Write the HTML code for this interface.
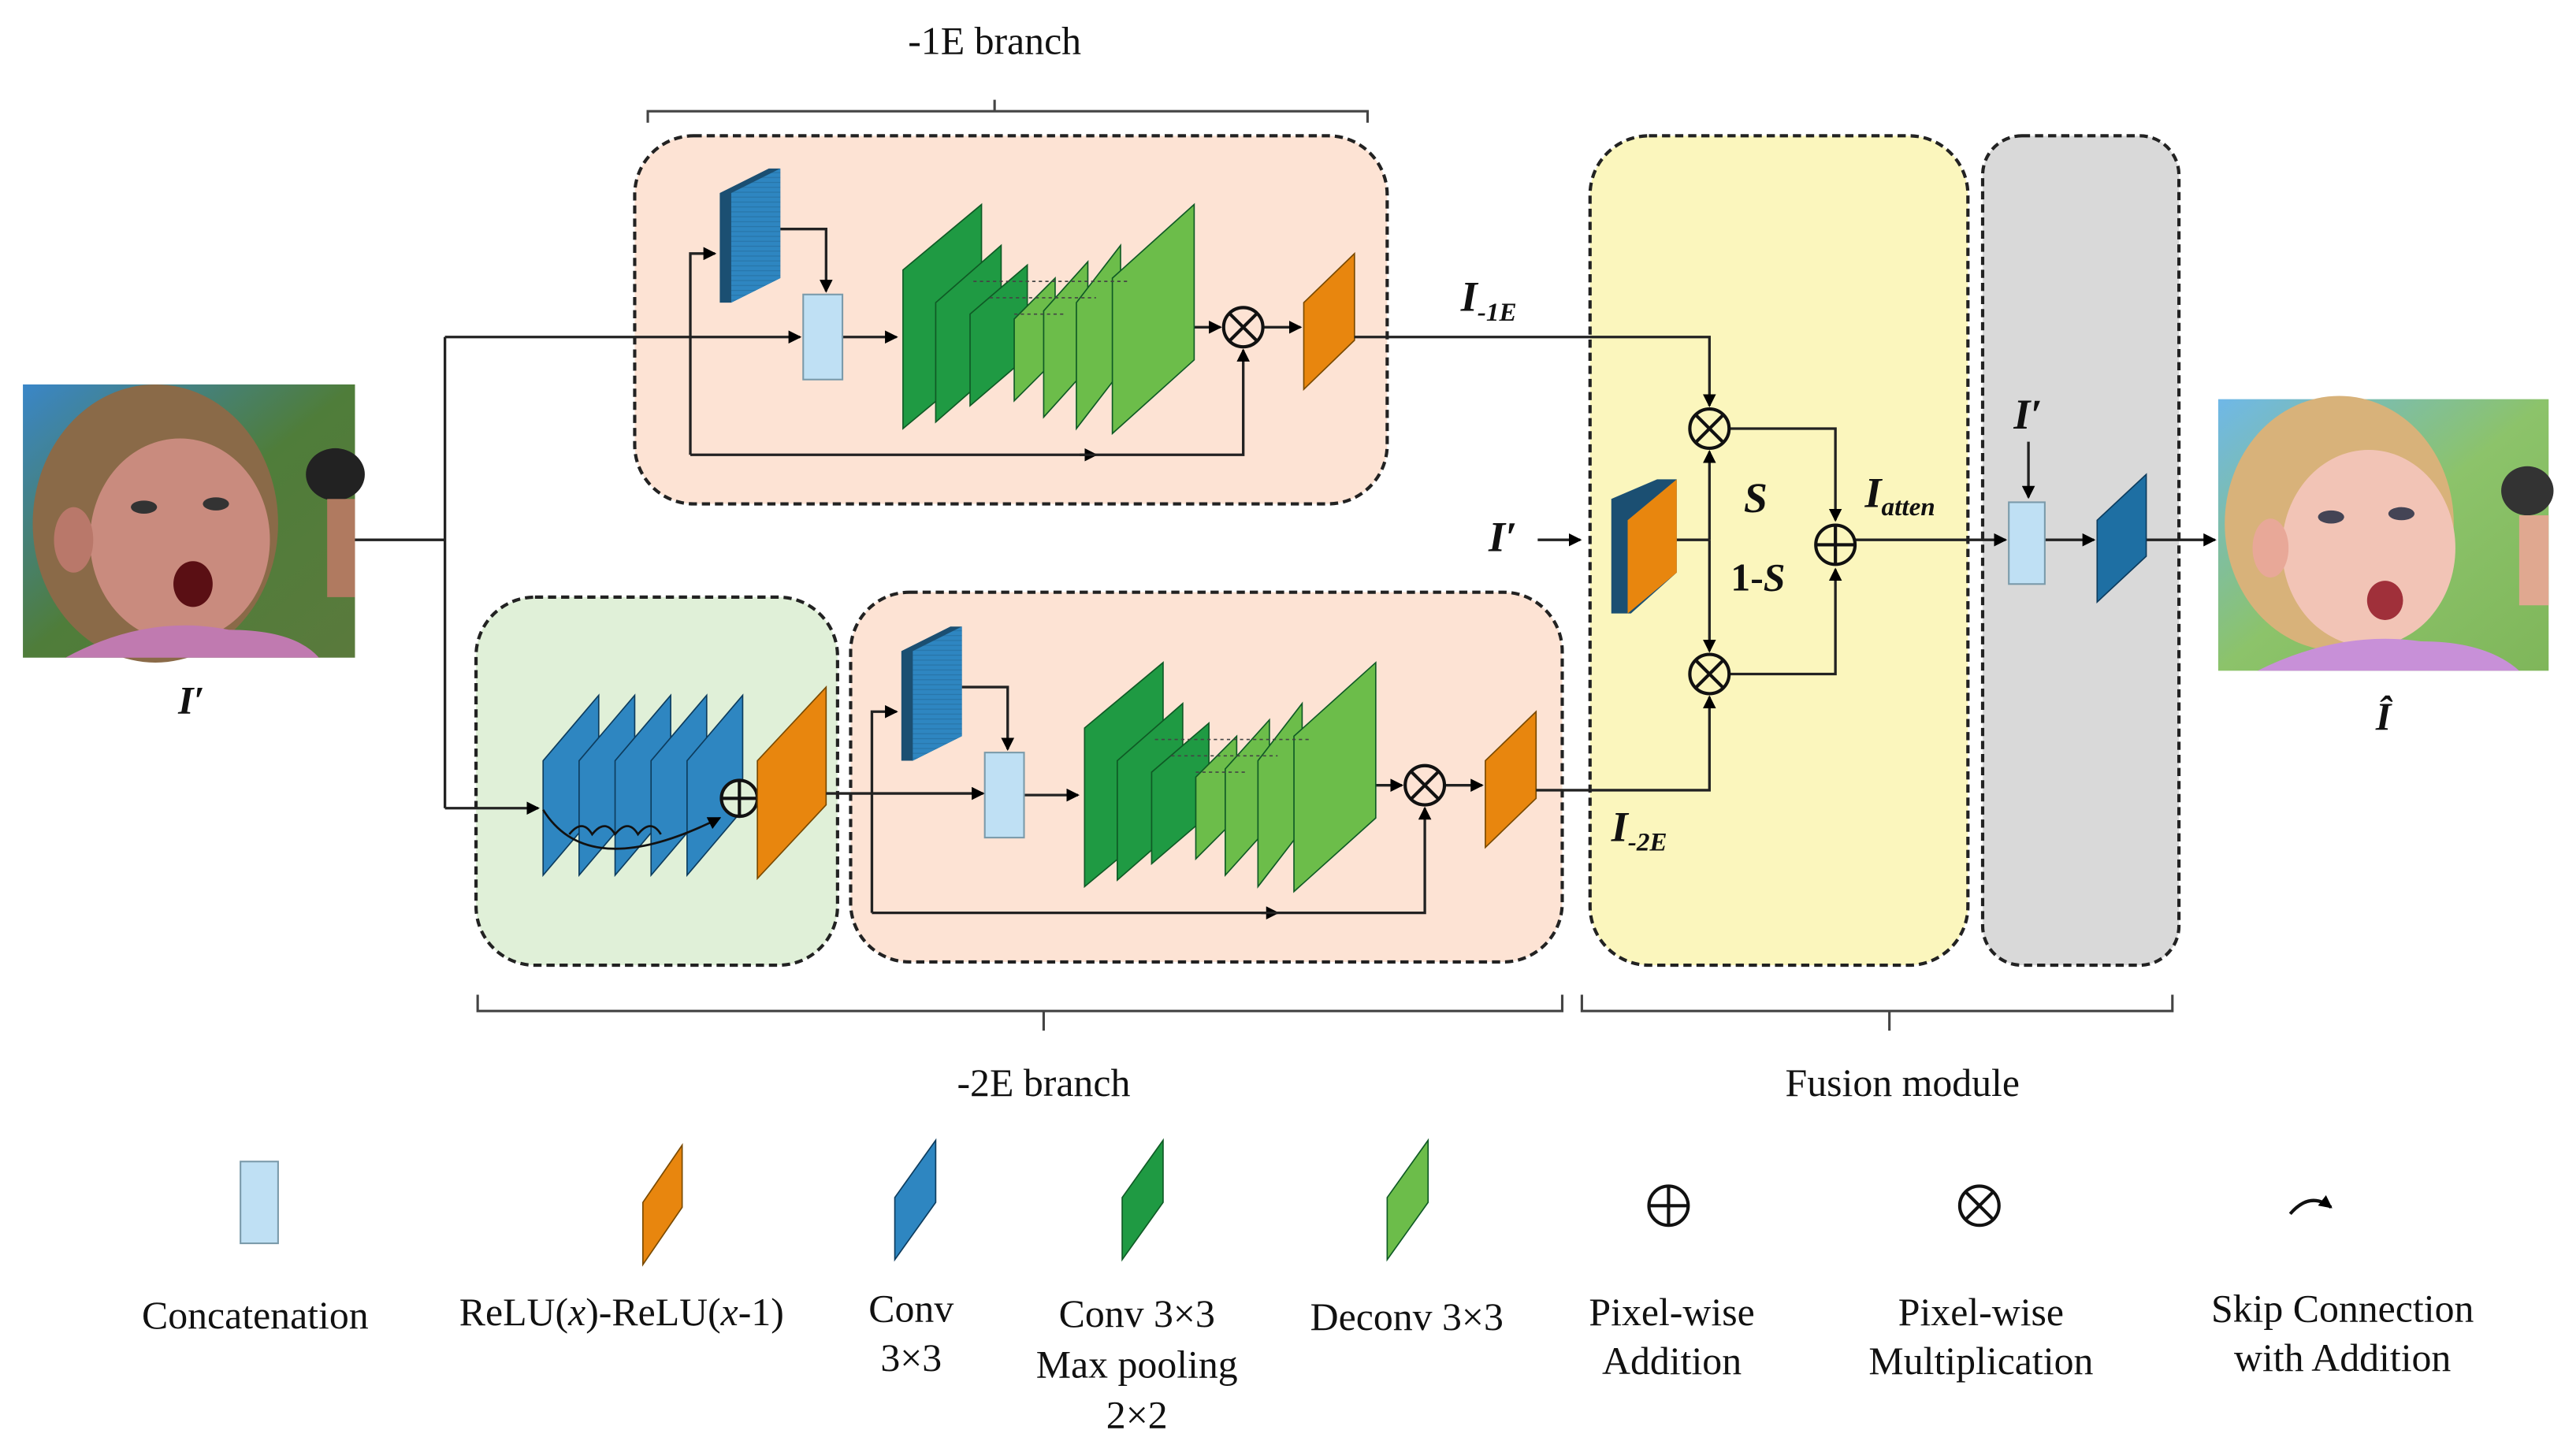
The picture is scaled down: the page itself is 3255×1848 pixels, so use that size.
<!DOCTYPE html>
<html><head><meta charset="utf-8"><style>
html,body{margin:0;padding:0;background:#fff;}
svg{display:block;}
text{font-family:"Liberation Serif",serif;fill:#111;}
.lb{font-size:24px;text-anchor:middle;}
.it{font-style:italic;font-weight:bold;}
</style></head><body>
<svg width="3255" height="1848" viewBox="0 0 1568 890" preserveAspectRatio="none" xmlns="http://www.w3.org/2000/svg">
<defs>
<marker id="a" markerWidth="8" markerHeight="8" refX="7" refY="4" orient="auto" markerUnits="userSpaceOnUse"><path d="M0,0 L8,4 L0,8z" fill="#000"/></marker>
<pattern id="st" width="4" height="3" patternUnits="userSpaceOnUse"><rect width="4" height="3" fill="none"/><line x1="0" y1="0.5" x2="4" y2="0.5" stroke="#000" stroke-opacity="0.12" stroke-width="0.6"/></pattern>
<linearGradient id="bg1" x1="0" y1="0" x2="1" y2="1"><stop offset="0" stop-color="#3a86c8"/><stop offset="0.5" stop-color="#4f7d3a"/><stop offset="1" stop-color="#5a7a3c"/></linearGradient>
<linearGradient id="bg2" x1="0" y1="0" x2="1" y2="1"><stop offset="0" stop-color="#6fb8e8"/><stop offset="0.5" stop-color="#8cc36a"/><stop offset="1" stop-color="#7fb65a"/></linearGradient>
</defs>

<!-- Left photo -->
<rect x="14" y="235" width="203" height="167" fill="url(#bg1)"/>
<ellipse cx="95" cy="320" rx="75" ry="85" fill="#8a6a48"/>
<ellipse cx="110" cy="330" rx="55" ry="62" fill="#c98b7e"/>
<ellipse cx="45" cy="330" rx="12" ry="20" fill="#b9786a"/>
<ellipse cx="88" cy="310" rx="8" ry="4" fill="#333"/>
<ellipse cx="132" cy="308" rx="8" ry="4" fill="#333"/>
<ellipse cx="118" cy="357" rx="12" ry="14" fill="#5a0f14"/>
<path d="M40,402 Q90,375 140,385 Q180,385 195,402z" fill="#c07ab0"/>
<ellipse cx="205" cy="290" rx="18" ry="16" fill="#222"/>
<rect x="200" y="305" width="17" height="60" fill="#b07a60"/>
<text x="117" y="436" class="lb it" font-size="28">I′</text>

<!-- Right photo -->
<rect x="1356" y="244" width="202" height="166" fill="url(#bg2)"/>
<ellipse cx="1430" cy="320" rx="70" ry="78" fill="#d8b27a"/>
<ellipse cx="1448" cy="335" rx="53" ry="60" fill="#f2c4b6"/>
<ellipse cx="1388" cy="335" rx="11" ry="18" fill="#e8a898"/>
<ellipse cx="1425" cy="316" rx="8" ry="4" fill="#445"/>
<ellipse cx="1468" cy="314" rx="8" ry="4" fill="#445"/>
<ellipse cx="1458" cy="367" rx="11" ry="12" fill="#a0303a"/>
<path d="M1380,410 Q1430,385 1480,392 Q1520,392 1540,410z" fill="#c890d8"/>
<ellipse cx="1545" cy="300" rx="16" ry="15" fill="#333"/>
<rect x="1540" y="315" width="18" height="55" fill="#e0a890"/>
<text x="1457" y="446" class="lb it" font-size="28">Î</text>

<!-- Braces and titles -->
<text x="608" y="33" class="lb">-1E branch</text>
<path d="M396,75 V68 H836 V75 M608,68 V61" fill="none" stroke="#444" stroke-width="1.5"/>
<path d="M292,608 V618 H955 V608 M638,618 V630" fill="none" stroke="#444" stroke-width="1.5"/>
<path d="M967,608 V618 H1328 V608 M1155,618 V630" fill="none" stroke="#444" stroke-width="1.5"/>
<text x="638" y="670" class="lb">-2E branch</text>
<text x="1163" y="670" class="lb">Fusion module</text>

<!-- Module boxes -->
<g stroke="#222" stroke-width="2" stroke-dasharray="5,3">
<rect x="388" y="83" width="460" height="225" rx="36" fill="#fde3d4"/>
<rect x="291" y="365" width="221" height="225" rx="36" fill="#e0f0d8"/>
<rect x="520" y="362" width="435" height="226" rx="36" fill="#fde3d4"/>
<rect x="972" y="83" width="231" height="507" rx="36" fill="#fbf6bd"/>
<rect x="1212" y="83" width="120" height="507" rx="24" fill="#d9d9d9"/>
</g>

<!-- Input split lines -->
<g stroke="#222" stroke-width="1.6" fill="none">
<path d="M217,330 H272 M272,206 V494"/>
<path d="M272,206 H489" marker-end="url(#a)"/>
<path d="M272,494 H329" marker-end="url(#a)"/>
</g>

<!-- Top branch -->
<g id="br">
<g stroke="#222" stroke-width="1.6" fill="none">
<path d="M422,278 V155 H437" marker-end="url(#a)"/>
<path d="M477,140 H505 V178" marker-end="url(#a)"/>
<path d="M515,206 H548" marker-end="url(#a)"/>
<path d="M422,278 H670" marker-end="url(#a)"/>
<path d="M660,278 H760 V214" marker-end="url(#a)"/>
<path d="M730,200 H746" marker-end="url(#a)"/>
<path d="M772,200 H795" marker-end="url(#a)"/>
</g>
<polygon points="440,118 470,103 477,103 477,170 447,185 440,185" fill="#1b4f72"/>
<polygon points="447,118 477,103 477,170 447,185" fill="#2e86c1"/>
<polygon points="447,118 477,103 477,170 447,185" fill="url(#st)"/>
<rect x="491" y="180" width="24" height="52" fill="#bfe0f4" stroke="#7a9aaa" stroke-width="1"/>
<g stroke="#0f5a25" stroke-width="0.8">
<polygon points="552,165 600,125 600,222 552,262" fill="#1f9a43"/>
<polygon points="572,185 612,150 612,223 572,258" fill="#1f9a43"/>
<polygon points="593,192 628,162 628,218 593,248" fill="#1f9a43"/>
<polygon points="620,195 645,170 645,220 620,245" fill="#6cbd4a"/>
<polygon points="638,190 665,160 665,225 638,255" fill="#6cbd4a"/>
<polygon points="658,185 685,150 685,227 658,262" fill="#6cbd4a"/>
<polygon points="680,170 730,125 730,220 680,265" fill="#6cbd4a"/>
</g>
<g stroke="#444" stroke-width="0.8" stroke-dasharray="2,2" fill="none">
<path d="M595,172 H690"/><path d="M605,182 H670"/><path d="M620,192 H650"/>
</g>
<circle cx="760" cy="200" r="12" fill="none" stroke="#111" stroke-width="2"/>
<path d="M752,192 L768,208 M768,192 L752,208" stroke="#111" stroke-width="2"/>
<polygon points="797,185 828,155 828,208 797,238" fill="#e8860e" stroke="#7a4a00" stroke-width="0.8"/>
</g>

<!-- Bottom branch (copy of top) -->
<use href="#br" transform="translate(111,280)"/>

<!-- Green box: residual stack -->
<g stroke="#0d3c5e" stroke-width="0.8">
<polygon points="332,465 366,425 366,495 332,535" fill="#2e86c1"/>
<polygon points="354,465 388,425 388,495 354,535" fill="#2e86c1"/>
<polygon points="376,465 410,425 410,495 376,535" fill="#2e86c1"/>
<polygon points="398,465 432,425 432,495 398,535" fill="#2e86c1"/>
<polygon points="420,465 454,425 454,495 420,535" fill="#2e86c1"/>
</g>
<g stroke="#111" stroke-width="1.3" fill="none">
<path d="M332,495 Q360,540 440,500" marker-end="url(#a)"/>
<path d="M348,510 q8,-10 14,0 q8,-10 14,0 q8,-10 14,0 q8,-10 14,0"/>
</g>
<circle cx="452" cy="488" r="11" fill="#e0f0d8" stroke="#111" stroke-width="2"/>
<path d="M441,488 H463 M452,477 V499" stroke="#111" stroke-width="2"/>
<polygon points="463,465 505,420 505,492 463,537" fill="#e8860e" stroke="#7a4a00" stroke-width="0.8"/>
<g stroke="#222" stroke-width="1.6" fill="none">
<path d="M505,485 H601" marker-end="url(#a)"/>
<path d="M939,483 H1045 V426" marker-end="url(#a)"/>
<path d="M828,206 H1045 V248" marker-end="url(#a)"/>
</g>

<!-- Fusion module -->
<text x="893" y="190" class="it" font-size="26">I<tspan font-size="16" dy="6">-1E</tspan></text>
<text x="985" y="514" class="it" font-size="26">I<tspan font-size="16" dy="6">-2E</tspan></text>
<text x="910" y="337" class="it" font-size="26">I′</text>
<g stroke="#222" stroke-width="1.6" fill="none">
<path d="M940,330 H966" marker-end="url(#a)"/>
<path d="M1025,330 H1045"/>
<path d="M1045,330 V276" marker-end="url(#a)"/>
<path d="M1045,330 V398" marker-end="url(#a)"/>
<path d="M1057,262 H1122 V318" marker-end="url(#a)"/>
<path d="M1057,412 H1122 V348" marker-end="url(#a)"/>
<path d="M1134,330 H1226" marker-end="url(#a)"/>
<path d="M1240,270 V304" marker-end="url(#a)"/>
<path d="M1250,330 H1280" marker-end="url(#a)"/>
<path d="M1312,330 H1354" marker-end="url(#a)"/>
</g>
<polygon points="985,305 1013,293 1025,293 1025,350 997,375 985,375" fill="#1b4f72"/>
<polygon points="995,318 1025,293 1025,350 995,375" fill="#e8860e"/>
<g fill="none" stroke="#111" stroke-width="2">
<circle cx="1045" cy="262" r="12"/><path d="M1037,254 L1053,270 M1053,254 L1037,270"/>
<circle cx="1045" cy="412" r="12"/><path d="M1037,404 L1053,420 M1053,404 L1037,420"/>
<circle cx="1122" cy="333" r="12"/><path d="M1110,333 H1134 M1122,321 V345"/>
</g>
<text x="1066" y="313" class="it" font-size="26">S</text>
<text x="1058" y="361" font-size="24" font-weight="bold">1-<tspan font-style="italic">S</tspan></text>
<text x="1140" y="310" class="it" font-size="26">I<tspan font-size="16" dy="5">atten</tspan></text>
<text x="1231" y="262" class="it" font-size="26">I′</text>
<rect x="1228" y="307" width="22" height="50" fill="#bfe0f4" stroke="#7a9aaa" stroke-width="1"/>
<polygon points="1282,318 1312,290 1312,340 1282,368" fill="#1e6fa3" stroke="#0d3c5e" stroke-width="0.8"/>

<!-- Legend -->
<rect x="147" y="710" width="23" height="50" fill="#bfe0f4" stroke="#7a9aaa" stroke-width="1"/>
<polygon points="393,735 417,700 417,738 393,773" fill="#e8860e" stroke="#7a4a00" stroke-width="0.8"/>
<polygon points="547,732 572,697 572,735 547,770" fill="#2e86c1" stroke="#0d3c5e" stroke-width="0.8"/>
<polygon points="686,732 711,697 711,735 686,770" fill="#1f9a43" stroke="#0f5a25" stroke-width="0.8"/>
<polygon points="848,732 873,697 873,735 848,770" fill="#6cbd4a" stroke="#0f5a25" stroke-width="0.8"/>
<g fill="none" stroke="#111" stroke-width="2">
<circle cx="1020" cy="737" r="12"/><path d="M1008,737 H1032 M1020,725 V749"/>
<circle cx="1210" cy="737" r="12"/><path d="M1202,729 L1218,745 M1218,729 L1202,745"/>
<path d="M1400,742 Q1412,728 1425,738" marker-end="url(#a)"/>
</g>
<text x="156" y="812" class="lb">Concatenation</text>
<text x="380" y="810" class="lb">ReLU(<tspan font-style="italic">x</tspan>)-ReLU(<tspan font-style="italic">x</tspan>-1)</text>
<text x="557" y="808" class="lb">Conv</text><text x="557" y="838" class="lb">3×3</text>
<text x="695" y="811" class="lb">Conv 3×3</text><text x="695" y="842" class="lb">Max pooling</text><text x="695" y="873" class="lb">2×2</text>
<text x="860" y="813" class="lb">Deconv 3×3</text>
<text x="1022" y="810" class="lb">Pixel-wise</text><text x="1022" y="840" class="lb">Addition</text>
<text x="1211" y="810" class="lb">Pixel-wise</text><text x="1211" y="840" class="lb">Multiplication</text>
<text x="1432" y="808" class="lb">Skip Connection</text><text x="1432" y="838" class="lb">with Addition</text>
</svg>
</body></html>
